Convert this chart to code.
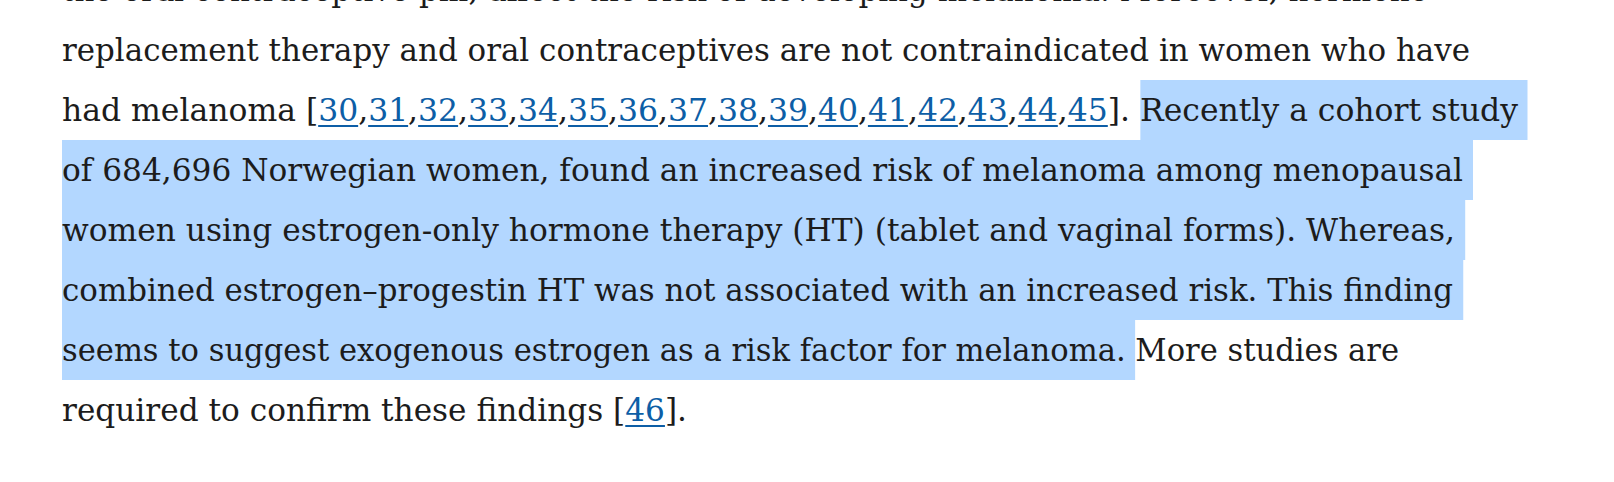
import { useLayoutEffect, useRef } from "react";

// The reference is a paragraph of article text with a selection highlight,
// not a chart: it is drawn as text, line by line, as in the screenshot.

type Segment = { text: string; kind?: "plain" | "link" | "highlight" };

const referenceNumbers = ["30", "31", "32", "33", "34", "35", "36", "37", "38", "39", "40", "41", "42", "43", "44", "45"];
const laterReference = "46";

const lines: Segment[][] = [
  [{ text: "the oral contraceptive pill, affect the risk of developing melanoma. Moreover, hormone" }],
  [{ text: "replacement therapy and oral contraceptives are not contraindicated in women who have" }],
  [
    { text: "had melanoma [" },
    ...referenceNumbers.flatMap((n, i): Segment[] =>
      i === 0 ? [{ text: n, kind: "link" }] : [{ text: "," }, { text: n, kind: "link" }]
    ),
    { text: "]. " },
    { text: "Recently a cohort study ", kind: "highlight" }
  ],
  [{ text: "of 684,696 Norwegian women, found an increased risk of melanoma among menopausal ", kind: "highlight" }],
  [{ text: "women using estrogen-only hormone therapy (HT) (tablet and vaginal forms). Whereas, ", kind: "highlight" }],
  [{ text: "combined estrogen\u2013progestin HT was not associated with an increased risk. This finding ", kind: "highlight" }],
  [
    { text: "seems to suggest exogenous estrogen as a risk factor for melanoma. ", kind: "highlight" },
    { text: "More studies are" }
  ],
  [{ text: "required to confirm these findings [" }, { text: laterReference, kind: "link" }, { text: "]." }]
];

// right edge (px) of the last glyph on each line in the reference
const lineEnds = [1428, 1470, 1518, 1463, 1455, 1453, 1399, 687];

const LEFT = 62;
const FIRST_TOP = -40;
const LINE_HEIGHT = 60;
const TEXT_COLOR = "#1c1c1c";
const LINK_COLOR = "#0d5ea6";
const HIGHLIGHT = "#b3d7ff";

function renderLine(segments: Segment[], markerRef: (el: HTMLSpanElement | null) => void) {
  const lastIndex = segments.length - 1;
  return segments.map((seg, i) => {
    let body = seg.text;
    let tail = "";
    if (i === lastIndex && body.endsWith(" ")) {
      body = body.trimEnd();
      tail = seg.text.slice(body.length);
    }
    const content = (
      <>
        {body}
        {i === lastIndex ? <span ref={markerRef} /> : null}
        {tail}
      </>
    );
    if (seg.kind === "link") {
      return (
        <span
          key={i}
          style={{
            color: LINK_COLOR,
            textDecoration: "underline",
            textDecorationThickness: "2px",
            textUnderlineOffset: "4px"
          }}
        >
          {content}
        </span>
      );
    }
    if (seg.kind === "highlight") {
      return (
        <span key={i} style={{ display: "inline-block", background: HIGHLIGHT, height: LINE_HEIGHT }}>
          {content}
        </span>
      );
    }
    return <span key={i}>{content}</span>;
  });
}

export default function App() {
  const lineRefs = useRef<(HTMLDivElement | null)[]>([]);
  const markerRefs = useRef<(HTMLSpanElement | null)[]>([]);

  useLayoutEffect(() => {
    const fit = () => {
      lines.forEach((_, i) => {
        const el = lineRefs.current[i];
        const marker = markerRefs.current[i];
        if (!el || !marker) return;
        el.style.transform = "none";
        const natural = marker.getBoundingClientRect().left - el.getBoundingClientRect().left;
        if (natural > 0) {
          el.style.transform = `scaleX(${(lineEnds[i] - LEFT) / natural})`;
        }
      });
    };
    fit();
    document.fonts?.ready.then(fit);
  }, []);

  return (
    <div
      style={{
        position: "absolute",
        top: 0,
        left: 0,
        width: 1614,
        height: 482,
        overflow: "hidden",
        background: "#ffffff",
        fontFamily: '"DejaVu Serif", serif',
        fontSize: 31,
        color: TEXT_COLOR
      }}
    >
      {lines.map((segments, i) => (
        <div
          key={i}
          ref={(el) => {
            lineRefs.current[i] = el;
          }}
          style={{
            position: "absolute",
            left: LEFT,
            top: FIRST_TOP + i * LINE_HEIGHT,
            height: LINE_HEIGHT,
            lineHeight: `${LINE_HEIGHT}px`,
            whiteSpace: "pre",
            transformOrigin: "0 0"
          }}
        >
          {renderLine(segments, (el) => {
            markerRefs.current[i] = el;
          })}
        </div>
      ))}
    </div>
  );
}
